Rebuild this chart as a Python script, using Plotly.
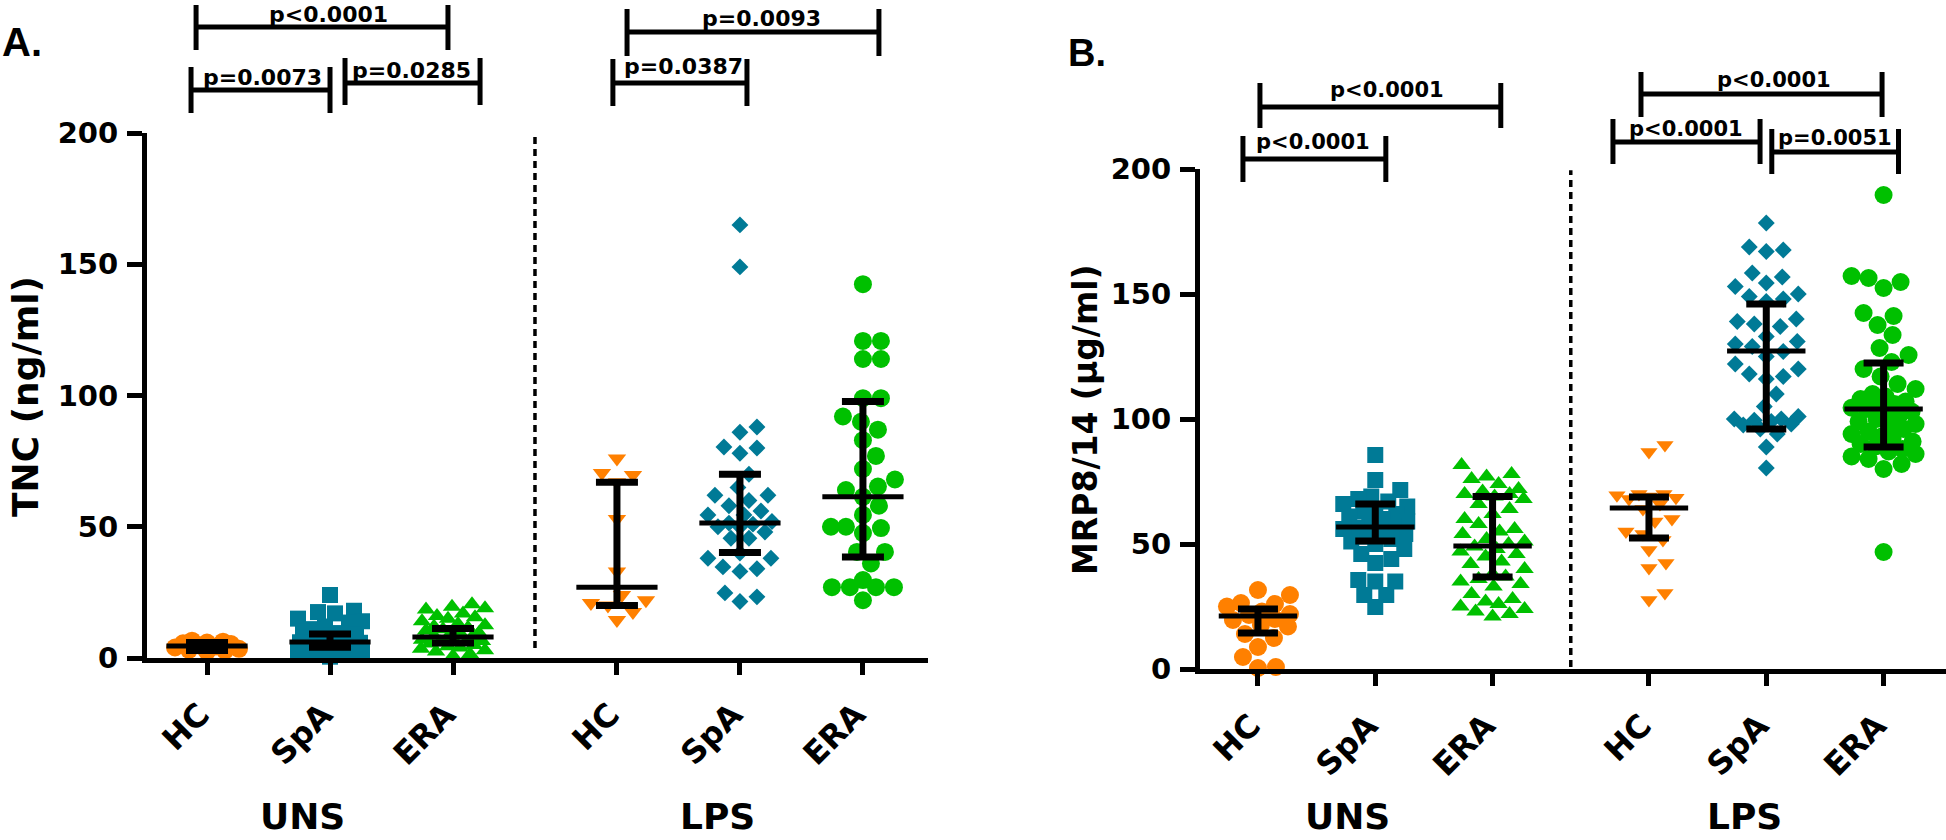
import numpy as np
import plotly.graph_objects as go

# ---------------- data ----------------
categories = ["HC", "SpA", "ERA", "HC", "SpA", "ERA"]
group_titles = ["UNS", "LPS"]

# Panel A : TNC (ng/ml)
tnc_uns_hc = [6.6, 6.2, 5.9, 5.6, 5.3, 4.8, 4.4, 4.0, 3.5, 3.1, 2.8, 2.5]
tnc_uns_spa = [24, 18, 17.5, 17, 15, 14, 13.5, 12, 11, 10, 9.5, 9, 8.5, 8, 7.5, 7,
               6.5, 6.2, 6, 5.8, 5.5, 5, 4.8, 4.5, 4.2, 4, 3.5, 3, 2.5, 2, 1.2, 0.5]
tnc_uns_era = [20.5, 19.5, 19, 18.5, 17, 16, 15.5, 15, 14, 13, 12.5, 12, 11.5, 11, 10.5,
               10, 9.5, 9, 8.5, 8, 7.5, 7, 6.8, 6.5, 6.2, 6, 5.5, 5, 4.5, 4, 3.5, 3, 2.5, 1.5, 0.8]
tnc_lps_hc = [76, 70.5, 69.7, 67, 53, 33, 24, 22, 21, 20, 17.5, 14.5]
tnc_lps_spa = [165, 149, 88, 86, 80.4, 80, 78, 70, 65, 62, 62, 60, 58, 56, 54.5, 54.5, 52,
               51.4, 51, 50, 50, 48, 45.6, 45.6, 40, 38, 38, 34.7, 34, 33, 24.8, 23.3, 21.5]
tnc_lps_era = [142.4, 120.8, 120.8, 113.9, 113.9, 99, 99, 92, 90, 87, 83, 77, 72, 68, 65.3,
               64, 61.4, 58, 54.5, 50, 50, 49.5, 47.6, 40.4, 40.4, 36, 29.7, 27, 27, 27, 27, 22]
tnc_median = [4.6, 6.1, 8.0, 27.0, 51.4, 61.4]
tnc_q1 = [2.9, 4.1, 5.7, 20.0, 40.2, 38.5]
tnc_q3 = [5.9, 9.1, 11.2, 67.0, 70.0, 97.7]

# Panel B : MRP8/14 (ug/ml)
mrp_uns_hc = [31.6, 29.6, 26.4, 26, 25, 23, 22, 21.6, 20, 19.6, 17.6, 17, 14, 12.4, 8.8,
              4.8, 0.8, 0.4]
mrp_uns_spa = [85.6, 75.6, 71.6, 69, 68, 67, 66, 65, 64, 63, 62, 61, 60, 59, 58, 57, 56.5,
               56, 55, 54, 53, 52, 51, 50, 48, 46, 44, 42.4, 35.6, 35, 35, 29.6, 29.6, 24.8]
mrp_uns_era = [81.6, 78, 77, 76, 74, 72, 71, 70, 70, 69, 68, 66, 64, 62, 60, 58, 56, 55, 54,
               52, 51, 50, 49, 48, 47, 46, 45, 43, 42, 40, 38, 37, 36, 35, 34, 33, 30, 28,
               27, 26, 25, 24, 23, 22, 21]
mrp_lps_hc = [89.6, 86.8, 70, 70, 69.5, 69, 68.5, 68, 66, 64, 60, 59, 55, 54, 51.6, 47.6,
              42.4, 40.4, 30.4, 27.6]
mrp_lps_spa = [178.4, 168.8, 167.6, 167, 158.4, 156.8, 154.4, 153, 150, 149, 148, 147, 140,
               139, 138, 137, 133, 131, 130, 129, 127, 125, 122, 120, 118, 117, 116, 110,
               105, 101, 100, 100, 99.5, 99, 98, 97.6, 96, 94, 88.8, 80.4]
mrp_lps_era = [189.6, 157.2, 156.4, 154.8, 152.4, 142.4, 141.2, 137.6, 133.6, 128.4, 125.6,
               122.8, 120, 117, 114, 112, 110, 109, 108, 107, 106, 105, 104.5, 104, 103, 102,
               101, 100, 99, 98, 97, 96, 95, 94, 93, 92, 91, 90, 89, 88, 87, 86, 85, 84, 82,
               80, 46.8]
mrp_median = [21.2, 56.8, 49.2, 64.4, 127.2, 104.0]
mrp_q1 = [14.4, 51.2, 36.8, 52.4, 96.0, 88.8]
mrp_q3 = [24.0, 66.0, 69.0, 68.8, 146.0, 122.4]

y_ticks = [0, 50, 100, 150, 200]

# significance annotations: (from group, to group, label)
sig_a = [(0, 2, "p<0.0001"), (0, 1, "p=0.0073"), (1, 2, "p=0.0285"),
         (3, 5, "p=0.0093"), (3, 4, "p=0.0387")]
sig_b = [(0, 2, "p<0.0001"), (0, 1, "p<0.0001"),
         (3, 5, "p<0.0001"), (3, 4, "p<0.0001"), (4, 5, "p=0.0051")]

# ---------------- style / layout ----------------
W, H = 1946, 840
ORANGE, TEAL, GREEN = "#FF8000", "#007A96", "#00C000"
colors = [ORANGE, TEAL, GREEN, ORANGE, TEAL, GREEN]
symbols = ["circle", "square", "triangle-up", "triangle-down", "diamond", "circle"]
xpos = [0, 1, 2, 3.333, 4.333, 5.333]
FONT = "DejaVu Sans"

panels = {
    "A": dict(xdom=(147, 928), ydom=(658, 133), xr=(-0.488, 5.862), xa="x", ya="y",
              groups=[tnc_uns_hc, tnc_uns_spa, tnc_uns_era, tnc_lps_hc, tnc_lps_spa, tnc_lps_era],
              med=tnc_median, q1=tnc_q1, q3=tnc_q3,
              sizes=[18, 16, 16, 16, 13, 18], vis=[18, 16, 17, 17, 17, 18],
              medsize=58, capw=21),
    "B": dict(xdom=(1200, 1946), ydom=(669, 169), xr=(-0.494, 5.865), xa="x2", ya="y2",
              groups=[mrp_uns_hc, mrp_uns_spa, mrp_uns_era, mrp_lps_hc, mrp_lps_spa, mrp_lps_era],
              med=mrp_median, q1=mrp_q1, q3=mrp_q3,
              sizes=[18, 16, 16, 15, 13, 18], vis=[18, 16, 17, 17, 17, 18],
              medsize=56, capw=20),
}


def swarm_offsets(vals, ppu_y, d, cap):
    vals = np.asarray(vals, float)
    order = np.argsort(vals)
    cands = [0.0]
    k = 1.0
    while k <= cap:
        cands += [k, -k]
        k += 1.0
    placed = []
    off = np.zeros(len(vals))
    for i in order:
        y = vals[i] * ppu_y
        best, bestd = 0.0, -1.0
        for c in cands:
            md = min([np.hypot(c - px, y - py) for px, py in placed], default=1e9)
            if md >= d:
                best = c
                break
            if md > bestd + 0.5:
                bestd, best = md, c
        placed.append((best, y))
        off[i] = best
    return off


fig = go.Figure()
for key, p in panels.items():
    ppu_x = (p["xdom"][1] - p["xdom"][0]) / (p["xr"][1] - p["xr"][0])
    ppu_y = (p["ydom"][0] - p["ydom"][1]) / 200.0
    for gi, vals in enumerate(p["groups"]):
        offs = swarm_offsets(vals, ppu_y, p["vis"][gi], 32) / ppu_x
        fig.add_trace(go.Scatter(
            x=[xpos[gi] + o for o in offs], y=vals, mode="markers",
            xaxis=p["xa"], yaxis=p["ya"], cliponaxis=False, showlegend=False,
            marker=dict(symbol=symbols[gi], size=p["sizes"][gi], color=colors[gi],
                        line=dict(width=0))))
    med = np.array(p["med"])
    fig.add_trace(go.Scatter(
        x=xpos, y=med, mode="markers", xaxis=p["xa"], yaxis=p["ya"], cliponaxis=False,
        showlegend=False,
        marker=dict(symbol="line-ew", size=p["medsize"], color="black",
                    line=dict(width=5, color="black")),
        error_y=dict(type="data", symmetric=False, array=np.array(p["q3"]) - med,
                     arrayminus=med - np.array(p["q1"]), thickness=7, width=p["capw"],
                     color="black")))


def paper_y(px):
    return 1 - px / H


axis_common = dict(showgrid=False, zeroline=False, showline=True, linewidth=5,
                   linecolor="black", ticks="outside", tickwidth=5, tickcolor="black",
                   automargin=False)
tickfont = dict(family=FONT, size=29, color="black", weight="bold")

for key, p in panels.items():
    xn = "xaxis" if p["xa"] == "x" else "xaxis2"
    yn = "yaxis" if p["ya"] == "y" else "yaxis2"
    fig.layout[xn] = dict(axis_common, domain=[p["xdom"][0] / W, p["xdom"][1] / W],
                          range=list(p["xr"]), anchor=p["ya"], tickmode="array",
                          tickvals=xpos, ticktext=categories, tickangle=-45, ticklen=12,
                          tickfont=dict(tickfont, size=32), ticklabelstandoff=8,
                          ticklabelshift=-7)
    fig.layout[yn] = dict(axis_common, domain=[paper_y(p["ydom"][0]), paper_y(p["ydom"][1])],
                          range=[0, 200], anchor=p["xa"], tickmode="array",
                          tickvals=y_ticks, ticklen=15, tickfont=tickfont,
                          ticklabelstandoff=3)

shapes, annos = [], []
# dotted separators
for key, p, ylo in [("A", panels["A"], 3.8), ("B", panels["B"], 0.8)]:
    xm = (xpos[2] + xpos[3]) / 2
    shapes.append(dict(type="line", xref=p["xa"], yref=p["ya"], x0=xm, x1=xm, y0=ylo, y1=199.5,
                       line=dict(color="black", width=3.5, dash="7px,5px")))

# brackets: x end offsets (data units), line y px, tick top/bottom px, text y px, text x
br_a = [(-0.089, -0.041, 27, 5, 50, 14, 0.99), (-0.13, -0.0, 90, 67, 113, 77, 0.447),
        (0.122, 0.22, 83, 58, 105, 70, 1.66), (0.082, 0.13, 32, 9, 56, 18, 4.51),
        (-0.033, 0.057, 83, 59, 106, 67, 3.87)]
br_b = [(0.017, 0.07, 107, 83, 128, 90, 1.1), (-0.128, 0.09, 159, 136, 182, 142, 0.47),
        (-0.068, -0.013, 94, 72, 117, 80, 4.4), (-0.307, -0.053, 142, 119, 164, 129, 3.65),
        (0.047, 0.127, 152, 129, 174, 138, 4.92)]
for p, sig, br, fsize in [(panels["A"], sig_a, br_a, 22), (panels["B"], sig_b, br_b, 21)]:
    for (g0, g1, label), (d0, d1, yl, yt, yb, ytx, xt) in zip(sig, br):
        x0, x1 = xpos[g0] + d0, xpos[g1] + d1
        ln = dict(color="black", width=5)
        shapes.append(dict(type="line", xref=p["xa"], yref="paper", x0=x0, x1=x1,
                           y0=paper_y(yl), y1=paper_y(yl), line=ln))
        for xx in (x0, x1):
            shapes.append(dict(type="line", xref=p["xa"], yref="paper", x0=xx, x1=xx,
                               y0=paper_y(yt), y1=paper_y(yb), line=ln))
        annos.append(dict(xref=p["xa"], yref="paper", x=xt, y=paper_y(ytx), text=label,
                          showarrow=False, xanchor="center", yanchor="middle",
                          font=dict(family=FONT, size=fsize, color="black", weight="bold")))

# group titles
for p, xs in [(panels["A"], (0.78, 4.15)), (panels["B"], (0.76, 4.15))]:
    for t, xx in zip(group_titles, xs):
        annos.append(dict(xref=p["xa"], yref="paper", x=xx, y=paper_y(839), text=t,
                          showarrow=False, xanchor="center", yanchor="bottom",
                          font=dict(family=FONT, size=36, color="black", weight="bold")))

# axis titles
annos.append(dict(xref="paper", yref="paper", x=25 / W, y=paper_y(397), text="TNC (ng/ml)",
                  textangle=-90, showarrow=False, xanchor="center", yanchor="middle",
                  font=dict(family=FONT, size=36, color="black", weight="bold")))
annos.append(dict(xref="paper", yref="paper", x=1085 / W, y=paper_y(420),
                  text="MRP8/14 (\u03bcg/ml)", textangle=-90, showarrow=False,
                  xanchor="center", yanchor="middle",
                  font=dict(family=FONT, size=33, color="black", weight="bold")))
# panel letters
annos.append(dict(xref="paper", yref="paper", x=0, y=paper_y(42), text="A.", showarrow=False,
                  xanchor="left", yanchor="middle",
                  font=dict(family="Liberation Sans", size=40, color="black", weight="bold")))
annos.append(dict(xref="paper", yref="paper", x=1066 / W, y=paper_y(53), text="B.",
                  showarrow=False, xanchor="left", yanchor="middle",
                  font=dict(family="Liberation Sans", size=38, color="black", weight="bold")))

fig.update_layout(width=W, height=H,
                  margin=dict(l=0, r=0, t=0, b=0, pad=0, autoexpand=False),
                  paper_bgcolor="white", plot_bgcolor="white", shapes=shapes,
                  annotations=annos, showlegend=False)
fig.write_html("out.html", config={"displayModeBar": False},
               post_script="document.body.style.margin='0px';"
                           "document.body.style.overflow='hidden';"
                           "document.documentElement.style.overflow='hidden';")
